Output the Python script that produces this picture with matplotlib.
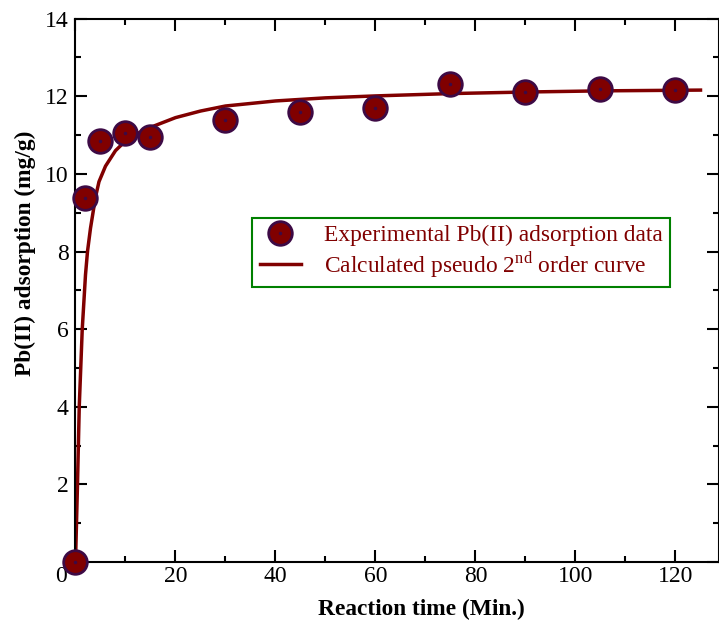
import matplotlib
matplotlib.use("Agg")
from matplotlib import pyplot as plt
from matplotlib.legend_handler import HandlerTuple
from matplotlib.transforms import ScaledTranslation

plt.rcParams['font.family'] = ['Liberation Serif', 'DejaVu Serif']
plt.rcParams['mathtext.fontset'] = 'custom'
plt.rcParams['mathtext.rm'] = 'Liberation Serif'

# experimental data
time_exp = [0, 2, 5, 10, 15, 30, 45, 60, 75, 90, 105, 120]
pb_exp = [0.0, 9.37, 10.86, 11.05, 10.95, 11.39, 11.59, 11.70, 12.31, 12.11, 12.19, 12.17]

# calculated pseudo 2nd order curve
time_fit = [0, 0.4, 0.75, 1.35, 2, 2.4, 3, 4, 4.7, 6, 8, 10, 12, 15, 20, 25, 30,
            40, 50, 60, 75, 90, 105, 125]
pb_fit = [0, 2.0, 4.0, 6.0, 7.4, 8.0, 8.6, 9.4, 9.8, 10.2, 10.6, 10.85, 11.02, 11.2,
          11.45, 11.62, 11.75, 11.88, 11.96, 12.01, 12.07, 12.11, 12.14, 12.16]

xticks = [0, 20, 40, 60, 80, 100, 120]
yticks = [0, 2, 4, 6, 8, 10, 12, 14]
ytick_labels = ['', '2', '4', '6', '8', '10', '12', '14']

red = '#800000'
edge = '#3d0a45'

fig = plt.figure(figsize=(7.19, 6.23), dpi=100)
ax = fig.add_axes([0.105, 0.098, 0.895, 0.872])

line, = ax.plot(time_fit, pb_fit, color=red, lw=2.5, zorder=2)
circ, = ax.plot(time_exp, pb_exp, 'o', ms=17, mfc=red, mec=edge, mew=2,
                ls='none', zorder=3, clip_on=False)
dot, = ax.plot(time_exp, pb_exp, '.', ms=3, color=edge, ls='none', zorder=4,
               clip_on=False)

ax.set_xlim(0, 128.7)
ax.set_ylim(0, 14)
ax.set_xticks(xticks)
ax.set_xticks(range(10, 130, 20), minor=True)
ax.set_yticks(yticks)
ax.set_yticklabels(ytick_labels)
ax.set_yticks(range(1, 14, 2), minor=True)
ax.tick_params(which='both', direction='in', top=True, right=True, width=1.5,
               labelsize=17, colors='black')
ax.tick_params(which='major', length=8.5)
ax.tick_params(which='minor', length=4.3)
ax.tick_params(axis='x', pad=3)
ax.tick_params(axis='y', pad=5)
for s in ax.spines.values():
    s.set_linewidth(1.5)

# the "0" label sits a bit left of the origin
lab0 = ax.get_xticklabels()[0]
lab0.set_transform(lab0.get_transform() + ScaledTranslation(-0.14, 0, fig.dpi_scale_trans))

ax.set_xlabel('Reaction time (Min.)', fontsize=16.8, fontweight='bold')
ax.set_ylabel('Pb(II) adsorption (mg/g)', fontsize=16.8, fontweight='bold')
ax.xaxis.set_label_coords(0.537, -0.068)
ax.yaxis.set_label_coords(-0.062, 0.569)

leg = ax.legend([(circ, dot), line],
                ['Experimental Pb(II) adsorption data',
                 'Calculated pseudo 2$^{\\mathrm{nd}}$ order curve'],
                handler_map={tuple: HandlerTuple(ndivide=1)},
                loc='upper left', bbox_to_anchor=(0.275, 0.634),
                fontsize=16.9, frameon=True, fancybox=False, framealpha=1,
                edgecolor='#008000', handlelength=1.75, handletextpad=1.0,
                borderpad=0.3, labelspacing=0.15, borderaxespad=0)
leg.get_frame().set_linewidth(1.5)
for t in leg.get_texts():
    t.set_color(red)

plt.savefig('out.png', dpi=100)
